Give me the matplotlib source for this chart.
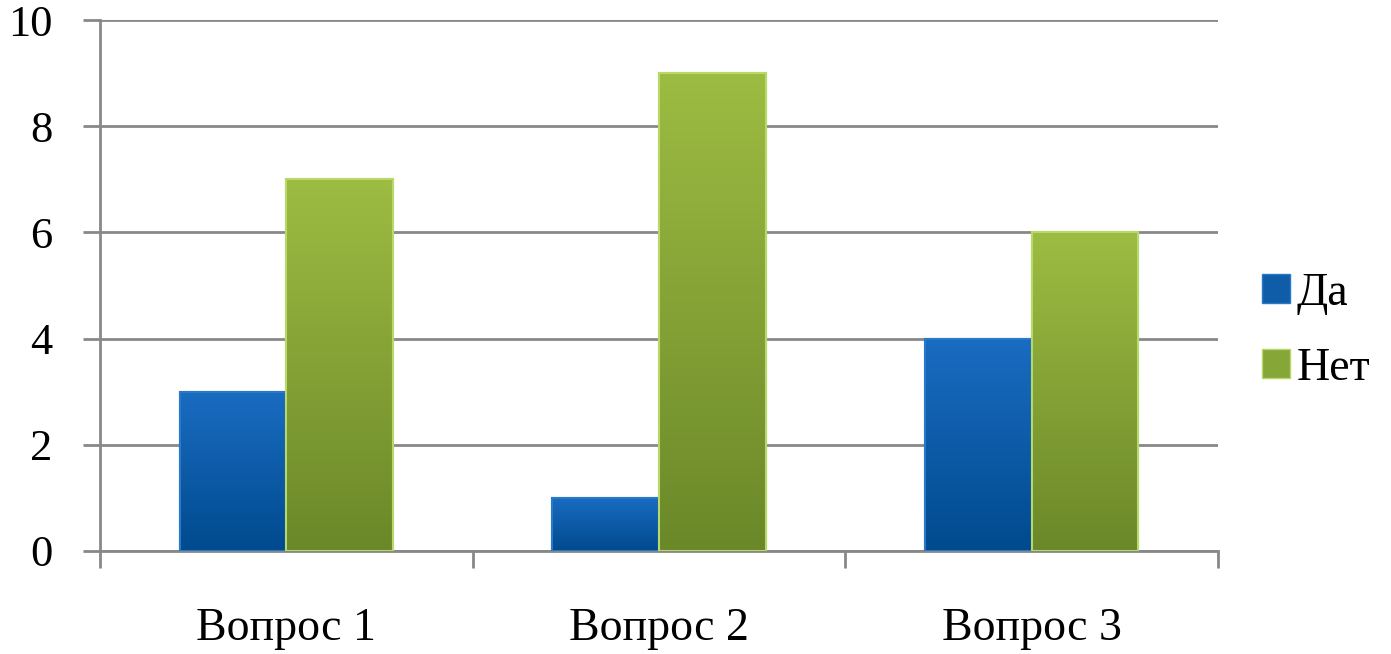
import numpy as np
import matplotlib
matplotlib.use("Agg")
import matplotlib.pyplot as plt
from matplotlib.colors import LinearSegmentedColormap
from matplotlib.patches import Patch

categories = ["Вопрос 1", "Вопрос 2", "Вопрос 3"]
series_names = ["Да", "Нет"]
da_values = [3, 1, 4]
net_values = [7, 9, 6]
y_ticks = [0, 2, 4, 6, 8, 10]

plt.rcParams['font.family'] = ['Liberation Serif', 'DejaVu Serif']

fig = plt.figure(figsize=(13.91, 6.54), dpi=100)
ax = fig.add_axes([100 / 1391, 103 / 654, 1118 / 1391, 531 / 654])

x = np.arange(len(categories))
w = 0.286
grey = "#888888"

styles = [
    ("#1a6cc2", "#004a8e", "#2a78c8"),
    ("#9dbc42", "#6b8829", "#b8d96a"),
]

grad = np.linspace(1, 0, 256).reshape(-1, 1)
for values, off, (top, bot, edge) in zip([da_values, net_values], [-w / 2, w / 2], styles):
    bars = ax.bar(x + off, values, width=w, color=bot, edgecolor=edge, linewidth=1.5, zorder=3)
    cmap = LinearSegmentedColormap.from_list("g", [bot, top])
    for b in bars:
        x0 = b.get_x()
        h = b.get_height()
        im = ax.imshow(grad, extent=[x0, x0 + b.get_width(), 0, h], aspect="auto",
                       cmap=cmap, zorder=3.5, interpolation="bilinear")
        im.set_clip_path(b)
        ax.add_patch(plt.Rectangle((x0, 0), b.get_width(), h, fill=False,
                                   edgecolor=edge, linewidth=1.5, zorder=4))

ax.set_xlim(-0.5, 2.5)
ax.set_ylim(0, 10)
ax.set_yticks(y_ticks)
ax.set_yticklabels([str(t) for t in y_ticks])
ax.yaxis.grid(True, color=grey, linewidth=2, zorder=0)
ax.set_axisbelow(True)

ax.set_xticks([-0.5, 0.5, 1.5, 2.5])
ax.set_xticklabels([])
ax.set_xticks(x, minor=True)
ax.set_xticklabels(categories, minor=True)
ax.tick_params(axis="x", which="major", length=12, width=2, color=grey, direction="out")
ax.tick_params(axis="x", which="minor", length=0, pad=41, labelsize=33)
ax.tick_params(axis="y", length=12, width=2, color=grey, direction="out", pad=22, labelsize=32)

for s in ["top", "right"]:
    ax.spines[s].set_visible(False)
for s in ["left", "bottom"]:
    ax.spines[s].set_color(grey)
    ax.spines[s].set_linewidth(2)

handles = [Patch(facecolor="#0f5ca8", edgecolor="#2a78c8"),
           Patch(facecolor="#86a737", edgecolor="#b8d96a")]
fig.legend(handles, series_names, loc="center left", bbox_to_anchor=(1262 / 1391, 1 - 331 / 654),
           frameon=False, fontsize=33, handlelength=0.6, handleheight=0.6,
           handletextpad=0.15, labelspacing=0.7, borderaxespad=0, borderpad=0)

fig.savefig("out.png", dpi=100)
